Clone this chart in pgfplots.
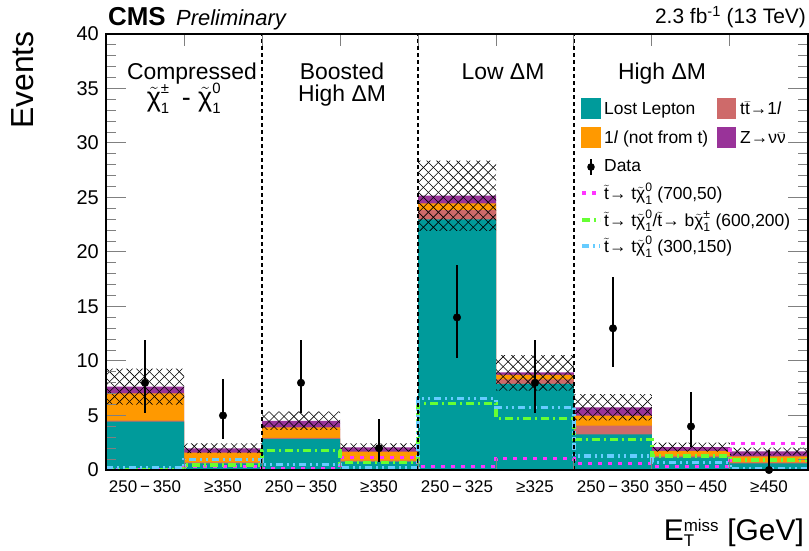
\documentclass[border=0pt]{standalone}
\usepackage{fontspec}
\setmainfont{Liberation Sans}
\usepackage{amsmath}
\usepackage{pgfplots}
\usepackage{pgfplotstable}
\pgfplotsset{compat=1.18}
\usetikzlibrary{patterns.meta}

\definecolor{cLL}{RGB}{0,155,155}
\definecolor{cTT}{RGB}{206,106,106}
\definecolor{cOL}{RGB}{255,153,0}
\definecolor{cZN}{RGB}{153,51,153}
\definecolor{sigA}{RGB}{255,51,255}
\definecolor{sigB}{RGB}{102,255,51}
\definecolor{sigC}{RGB}{102,204,255}

% ROOT-like diagonal cross hatch
\tikzdeclarepattern{
  name=xhatch, type=uncolored,
  bottom left={(-0.5pt,-0.5pt)}, top right={(10.5pt,10.5pt)},
  tile size={(10pt,10pt)},
  code={
    \draw[line width=0.6pt] (0pt,0pt) -- (10pt,10pt);
    \draw[line width=0.6pt] (0pt,10pt) -- (10pt,0pt);
  }
}

\newcommand{\chiz}{\ensuremath{\tilde{\text{χ}}^{\text{0}}_{\text{1}}}}
\newcommand{\chipm}{\ensuremath{\tilde{\text{χ}}^{\text{±}}_{\text{1}}}}
\newcommand{\stp}{\ensuremath{\tilde{\text{t}}}}
\newcommand{\chiL}[1]{\ensuremath{\tilde{\text{χ}}^{\text{\fontsize{15}{15}\selectfont #1}}_{\text{\fontsize{15}{15}\selectfont 1}}}}

% backgrounds per bin (last row repeats bin 9 to close the steps)
\pgfplotstableread{
x  ll    tt   ol   zn   sA   sB   sC
0  4.43  0.10 2.51 0.61 0.00 0.05 0.18
1  0.60  0.10 0.89 0.40 0.30 0.45 0.98
2  2.85  0.10 0.96 0.60 0.15 1.77 0.52
3  0.76  0.10 0.82 0.40 1.13 0.67 0.25
4  23.00 0.85 0.61 0.71 0.30 6.12 6.57
5  7.89  0.43 0.40 0.24 1.07 4.74 5.75
6  3.27  0.80 0.91 0.77 0.61 2.82 1.28
7  1.15  0.15 0.45 0.35 0.30 1.30 0.70
8  0.60  0.10 0.55 0.45 2.45 0.92 0.10
9  0.60  0.10 0.55 0.45 2.45 0.92 0.10
}\bkg
\pgfplotstablecreatecol[create col/expr={\thisrow{ll}+\thisrow{tt}}]{c2}\bkg
\pgfplotstablecreatecol[create col/expr={\thisrow{c2}+\thisrow{ol}}]{c3}\bkg
\pgfplotstablecreatecol[create col/expr={\thisrow{c3}+\thisrow{zn}}]{c4}\bkg

% data and background uncertainty band per bin
\pgfplotstableread{
xc  n   ep   em    lo    hi
0.5 8   3.94 2.76  6.00  9.30
1.5 5   3.38 2.16  1.55  2.45
2.5 8   3.94 2.76  3.67  5.35
3.5 2   2.64 1.29  1.70  2.45
4.5 14  4.83 3.70  21.93 28.38
5.5 8   3.94 2.76  7.28  10.55
6.5 13  4.71 3.57  4.55  6.97
7.5 4   3.16 1.91  1.70  2.50
8.5 0   1.84 0.00  1.35  2.05
}\obs

\pgfplotsset{
  frame/.style={
    at={(106bp,81bp)}, anchor=south west,
    scale only axis, width=702bp, height=436bp,
    xmin=0, xmax=9, ymin=0, ymax=40,
  },
}

\begin{document}
\begin{tikzpicture}
% stacked backgrounds, largest first
\begin{axis}[frame, hide axis]
\addplot[const plot mark left, fill=cZN, draw=none] table[x=x,y=c4]{\bkg} \closedcycle;
\addplot[const plot mark left, fill=cOL, draw=none] table[x=x,y=c3]{\bkg} \closedcycle;
\addplot[const plot mark left, fill=cTT, draw=none] table[x=x,y=c2]{\bkg} \closedcycle;
\addplot[const plot mark left, fill=cLL, draw=none] table[x=x,y=ll]{\bkg} \closedcycle;
\end{axis}

% uncertainty band: invisible base plus hatched height
\begin{axis}[frame, hide axis, ybar stacked, bar width=1, bar shift=0pt]
\addplot[draw=none, fill=none] table[x=xc, y=lo]{\obs};
\addplot[draw=none, pattern=xhatch, pattern color=black] table[x=xc, y expr=\thisrow{hi}-\thisrow{lo}]{\obs};
\end{axis}

\begin{axis}[
  frame,
  axis on top,
  axis line style={line width=1.2bp},
  major tick length=20bp, minor tick length=10bp,
  xtick={1,...,8}, xticklabels={},
  x tick style={line width=1bp, /pgfplots/major tick length=12bp},
  extra x ticks={0.5,1.5,...,8.5},
  extra x tick labels={250\,−\,350, ≥350, 250\,−\,350, ≥350, 250\,−\,325, ≥325, 250\,−\,350, 350\,−\,450, ≥450},
  extra x tick style={tick style={draw=none}},
  xticklabel style={font=\fontsize{17}{20}\selectfont, inner sep=0pt, yshift=-10bp},
  minor xtick={2,4,6},
  minor x tick style={draw=none},
  xminorgrids=true,
  minor x grid style={black, line width=2.4bp, dash pattern=on 4bp off 3bp},
  ytick={0,5,...,40}, minor y tick num=4,
  y tick style={line width=1bp},
  yticklabel style={font=\fontsize{20}{24}\selectfont, inner sep=0pt, xshift=-7bp},
  /pgf/number format/assume math mode=true,
]
% signals
\addplot[const plot mark left, sigA, line width=3.5bp, dash pattern=on 4bp off 6bp] table[x=x,y=sA]{\bkg};
\addplot[const plot mark left, sigB, line width=3.5bp, dash pattern=on 8bp off 4bp on 2bp off 4bp] table[x=x,y=sB]{\bkg};
\addplot[const plot mark left, sigC, line width=3.5bp, dash pattern=on 7bp off 4bp on 2bp off 4bp on 2bp off 4bp] table[x=x,y=sC]{\bkg};

% data
\addplot[only marks, mark=*, mark size=3.8bp, mark options={fill=black, draw=black},
  error bars/.cd, y dir=both, y explicit,
  error bar style={line width=2.6bp, black}, error mark=none]
  table[x=xc, y=n, y error plus=ep, y error minus=em]{\obs};
\end{axis}

% headers
\node[anchor=base west, font=\fontsize{26}{30}\selectfont\bfseries, inner sep=0pt] at (108bp,525bp) {CMS};
\node[anchor=base west, font=\fontsize{22}{26}\selectfont\itshape, inner sep=0pt] at (176bp,525bp) {Preliminary};
\node[anchor=base east, font=\fontsize{21}{25}\selectfont, inner sep=0pt] at (806bp,527bp) {2.3 fb\textsuperscript{-1} (13 TeV)};
\node[rotate=90, anchor=base east, font=\fontsize{32}{36}\selectfont, inner sep=0pt] at (33bp,520bp) {Events};
\node[anchor=base east, font=\fontsize{30}{34}\selectfont, inner sep=0pt] at (804bp,11bp)
  {E$^{\text{\fontsize{17}{17}\selectfont miss}}_{\text{\fontsize{17}{17}\selectfont T}}$ [GeV]};

% region labels
\begin{scope}[every node/.style={font=\fontsize{23}{27}\selectfont, anchor=base, inner sep=0pt}]
\node at (192bp,471bp) {Compressed};
\node[font=\fontsize{27}{30}\selectfont] at (184bp,444bp) {\chiL{±}\ \,-\ \chiL{0}};
\node at (342bp,471bp) {Boosted};
\node at (342bp,449bp) {High ΔM};
\node at (503bp,471bp) {Low ΔM};
\node at (662bp,471bp) {High ΔM};
\end{scope}

% legend
\begin{scope}[every node/.style={font=\fontsize{17.5}{21}\selectfont, anchor=base west, inner sep=0pt}]
\fill[cLL] (581bp,432bp) rectangle (601bp,453bp);
\node at (604bp,436bp) {Lost Lepton};
\fill[cTT] (717bp,432bp) rectangle (736bp,453bp);
\node at (740bp,436bp) {t\ensuremath{\bar{\text{t}}}→1\textit{l}};
\fill[cOL] (581bp,403bp) rectangle (601bp,424bp);
\node at (604bp,407bp) {1\textit{l} (not from t)};
\fill[cZN] (717bp,403bp) rectangle (736bp,424bp);
\node at (740bp,407bp) {Z→ν\ensuremath{\bar{\text{ν}}}};
\draw[black, line width=2.6bp] (591bp,376bp) -- (591bp,392bp);
\fill[black] (591bp,384bp) circle (3.8bp);
\node at (604bp,379bp) {Data};
\draw[sigA, line width=3.5bp, dash pattern=on 4bp off 6bp] (582bp,358bp) -- (600bp,358bp);
\node at (604bp,351bp) {\stp→ t\chiz\ (700,50)};
\draw[sigB, line width=3.5bp, dash pattern=on 8bp off 4bp on 2bp off 4bp] (582bp,331bp) -- (600bp,331bp);
\node at (604bp,324bp) {\stp→ t\chiz/\stp→ b\chipm\ (600,200)};
\draw[sigC, line width=3.5bp, dash pattern=on 7bp off 4bp on 2bp off 4bp] (582bp,305bp) -- (600bp,305bp);
\node at (604bp,298bp) {\stp→ t\chiz\ (300,150)};
\end{scope}
\pgfresetboundingbox
\useasboundingbox (0,0) rectangle (809bp,551bp);
\end{tikzpicture}
\end{document}
